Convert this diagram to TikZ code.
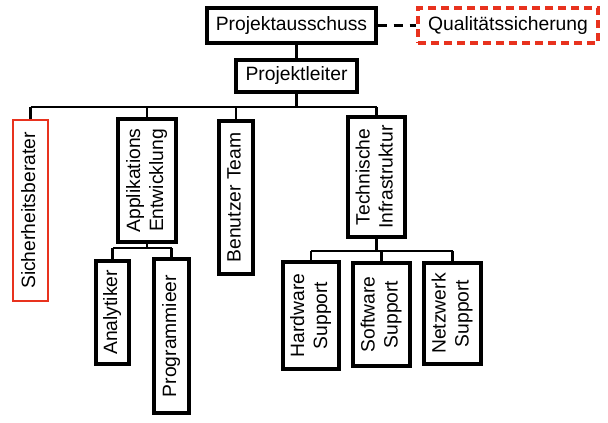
\documentclass[tikz,border=0pt]{standalone}
\usepackage{fontspec}
\setmainfont{Liberation Sans}
\usepackage{graphicx}
\usepackage{xcolor}
\usetikzlibrary{positioning,calc}
\definecolor{uRed}{HTML}{E8321E}
\tikzset{
  blk/.style={draw, line width=3.4pt, align=center, inner sep=0pt,
              font=\fontsize{19.3}{23}\selectfont, fill=white},
  warn/.style={blk, draw=uRed, line width=2.4pt},
  qual/.style={blk, draw=uRed, dash pattern=on 8pt off 5pt},
  link/.style={line width=2.2pt},
  dlink/.style={link, dash pattern=on 9pt off 7pt},
}
\newcommand{\vtext}[1]{\rotatebox{90}{\begin{tabular}{@{}c@{}}#1\end{tabular}}}

\begin{document}
\begin{tikzpicture}[x=1pt, y=-1pt]
\useasboundingbox (0,0) rectangle (608,423);

%% ── top of the tree ───────────────────────────────────────────────────────
\node[blk, minimum width=169pt, minimum height=35pt] (pa) at (291.5,25.5) {Projektausschuss};
\node[qual, minimum width=180pt, minimum height=35pt] (qs) at (508,25.5) {Qualitätssicherung};
\node[blk, minimum width=121pt, minimum height=32pt] (pl) at (296.5,76) {Projektleiter};

%% ── first level, text turned upright ──────────────────────────────────────
\node[warn, minimum width=35pt, minimum height=181pt] (sb) at (30.5,210.5) {\vtext{Sicherheitsberater}};
\node[blk, minimum width=58pt, minimum height=123pt] (ae) at (147,180.5) {\vtext{Applikations\\Entwicklung}};
\node[blk, minimum width=34pt, minimum height=153pt] (bt) at (236,197.5) {\vtext{Benutzer Team}};
\node[blk, minimum width=57pt, minimum height=120pt] (ti) at (376.5,177) {\vtext{Technische\\Infrastruktur}};

%% ── second level ──────────────────────────────────────────────────────────
\node[blk, minimum width=33pt, minimum height=103pt] (an) at (112.5,312.5) {\vtext{Analytiker}};
\node[blk, minimum width=35pt, minimum height=154pt] (pr) at (171.5,336) {\vtext{Programmieer}};
\node[blk, minimum width=56pt, minimum height=107pt] (hw) at (311,315.5) {\vtext{Hardware\\Support}};
\node[blk, minimum width=57pt, minimum height=103pt] (sw) at (381.5,314.5) {\vtext{Software\\Support}};
\node[blk, minimum width=57pt, minimum height=101pt] (nw) at (452.5,313.5) {\vtext{Netzwerk\\Support}};

%% ── connectors ────────────────────────────────────────────────────────────
\coordinate (bus) at (0,107);
\coordinate (aebus) at (0,248);
\coordinate (tibus) at (0,251);

\draw[dlink] (pa.east) -- (qs.west);
\draw[link] (pl.north) -- (pl.north |- pa.south);
\draw[link] (pl.south) -- (pl.south |- bus);
\draw[link] (sb.north |- bus) -- (ti.north |- bus);
\foreach \c in {sb,ae,bt,ti}
  \draw[link] (\c.north) -- (\c.north |- bus);

\draw[link] (ae.south) -- (ae.south |- aebus);
\draw[link] (an.north |- aebus) -- (pr.north |- aebus);
\foreach \c in {an,pr}
  \draw[link] (\c.north) -- (\c.north |- aebus);

\draw[link] (ti.south) -- (ti.south |- tibus);
\draw[link] (hw.north |- tibus) -- (nw.north |- tibus);
\foreach \c in {hw,sw,nw}
  \draw[link] (\c.north) -- (\c.north |- tibus);

\end{tikzpicture}
\end{document}
